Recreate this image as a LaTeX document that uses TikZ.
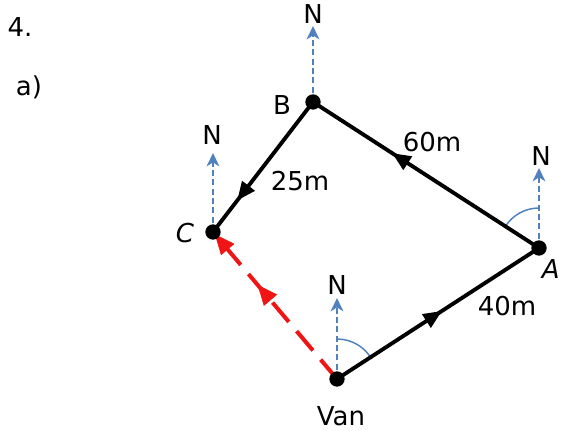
\documentclass[tikz,border=0pt]{standalone}
\usepackage{fontspec}
\setmainfont{DejaVu Sans}
\usetikzlibrary{arrows.meta,decorations.markings,calc}
\definecolor{nblue}{RGB}{79,129,189}
\definecolor{pathred}{RGB}{240,20,20}
\tikzset{
  x=0.75pt,y=-0.75pt,
  lbl/.style={font=\fontsize{19.5}{22}\selectfont,inner sep=0pt},
  dot/.style={circle,fill=black,minimum size=11.5pt,inner sep=0pt},
  north/.style={draw=nblue,line width=1.6pt,dash pattern=on 4.5pt off 2.5pt,-{Stealth[length=10pt,width=9.5pt,inset=3pt]}},
  bearing/.style={draw=nblue,line width=1.1pt},
  leg/.style={draw=black,line width=2.9pt},
  midarrow/.style={postaction={decorate},decoration={markings,mark=at position #1 with {\arrow{Triangle[length=14pt,width=11.5pt]}}}},
  redmark/.style={postaction={decorate},decoration={markings,mark=at position #1 with {\arrow[pathred]{Triangle[length=15pt,width=13pt]}}}},
  redleg/.style={draw=pathred,line width=3pt,dash pattern=on 19pt off 9pt},
}
\begin{document}
\begin{tikzpicture}
\useasboundingbox (0,0) rectangle (562,430);
% points
\coordinate (van) at (337,379);
\coordinate (a) at (539,248);
\coordinate (b) at (313,102);
\coordinate (c) at (213,232);
% north arrow tips
\coordinate (nvan) at (337,298);
\coordinate (na) at (539,168);
\coordinate (nb) at (313,26);
\coordinate (nc) at (213,153);
\coordinate (cend) at ($(van)!0.985!(c)$);
% north arrows
\draw[north] (van) -- (nvan);
\draw[north] (a) -- (na);
\draw[north] (b) -- (nb);
\draw[north] (c) -- (nc);
% bearing arcs
\draw[bearing] (337,339) arc[start angle=-90,end angle=-30,radius=40];
\draw[bearing] (539,208) arc[start angle=-90,end angle=-147,radius=40];
% legs
\draw[leg,midarrow=0.52] (van) -- (a);
\draw[leg,midarrow=0.65] (a) -- (b);
\draw[leg,midarrow=0.76] (b) -- (c);
% resultant
\draw[redleg] (van) -- (c);
\path[redmark=0.64] (van) -- (c);
\path[redmark=1] (van) -- (cend);
% dots
\node[dot] (vanp) at (van) {};
\node[dot] (ap) at (a) {};
\node[dot] (bp) at (b) {};
\node[dot] (cp) at (c) {};
% labels
\node[lbl] (t4) at (20,27) {4.};
\node[lbl] (ta) at (29,87) {a)};
\node[lbl] (nl1) at (337,285) {N};
\node[lbl] (nl2) at (541,156) {N};
\node[lbl] (nl3) at (313,14) {N};
\node[lbl] (nl4) at (212,135) {N};
\node[lbl] (lb) at (282,105) {B};
\node[lbl] (lc) at (185,233) {\itshape C};
\node[lbl,anchor=east] (la) at (560,269) {\itshape A};
\node[lbl] (l60) at (432,142) {60m};
\node[lbl] (l25) at (300,181) {25m};
\node[lbl] (l40) at (507,306) {40m};
\node[lbl] (lvan) at (341,416) {Van};
\end{tikzpicture}
\end{document}
